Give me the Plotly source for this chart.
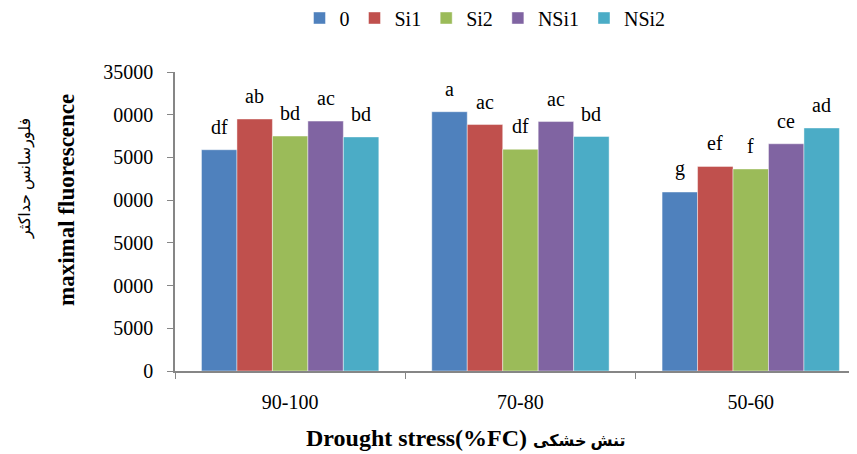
import plotly.graph_objects as go

categories = ["90-100", "70-80", "50-60"]
series_names = ["0", "Si1", "Si2", "NSi1", "NSi2"]
values = {
    "0":    [25900, 30350, 20950],
    "Si1":  [29500, 28850, 23950],
    "Si2":  [27500, 25950, 23650],
    "NSi1": [29250, 29200, 26600],
    "NSi2": [27400, 27450, 28450],
}
letters = {
    "0":    ["df", "a", "g"],
    "Si1":  ["ab", "ac", "ef"],
    "Si2":  ["bd", "df", "f"],
    "NSi1": ["ac", "ac", "ce"],
    "NSi2": ["bd", "bd", "ad"],
}
colors = ["#4F81BD", "#C0504D", "#9BBB59", "#8064A2", "#4BACC6"]
ytick_vals = [0, 5000, 10000, 15000, 20000, 25000, 30000, 35000]
ytick_text = ["0", "5000", "0000", "5000", "0000", "5000", "0000", "35000"]

FONT = "Liberation Serif, Times New Roman, DejaVu Sans, serif"
bargap = 0.23
n = len(series_names)
bw = (1 - bargap) / n

fig = go.Figure()
annotations = []
for i, name in enumerate(series_names):
    fig.add_trace(go.Bar(
        x=categories, y=values[name], name=name,
        marker=dict(color=colors[i], line=dict(color="rgba(255,255,255,0.55)", width=0.8)),
    ))
    for j, v in enumerate(values[name]):
        annotations.append(dict(
            x=j + (i - (n - 1) / 2) * bw, y=v, xref="x", yref="y",
            text=letters[name][j], showarrow=False, yanchor="bottom",
            yshift=10, font=dict(family=FONT, size=20, color="black"),
        ))

OFF = 8  # page body margin
W, H = 857, 454
L, R, T, B = 175 - OFF, 0, 72 - OFF, H - (371 - OFF)
pw, ph = W - L - R, H - T - B

def px_x(px):
    return (px - OFF - L) / pw

def px_y(py):
    return (H - B - (py - OFF)) / ph

annotations += [
    dict(x=px_x(466), y=px_y(438), xref="paper", yref="paper",
         xanchor="center", yanchor="middle",
         text="<b>Drought stress(%FC) <span style='font-size:16px'>تنش خشکی</span></b>",
         showarrow=False,
         font=dict(family=FONT, size=24, color="black")),
    dict(x=px_x(66), y=px_y(200), xref="paper", yref="paper",
         xanchor="center", yanchor="middle",
         text="<b>maximal fluorescence</b>", showarrow=False, textangle=-90,
         font=dict(family=FONT, size=23, color="black")),
    dict(x=px_x(25), y=px_y(179), xref="paper", yref="paper",
         xanchor="center", yanchor="middle",
         text="فلورسانس حداکثر", showarrow=False, textangle=-90,
         font=dict(family=FONT, size=16, color="black")),
]

fig.update_layout(
    width=W, height=H,
    margin=dict(l=L, r=R, t=T, b=B, pad=0, autoexpand=False),
    paper_bgcolor="white", plot_bgcolor="white",
    barmode="group", bargap=bargap, bargroupgap=0,
    font=dict(family=FONT, size=20, color="black"),
    legend=dict(orientation="h", x=px_x(485), xanchor="center",
                y=px_y(18), yanchor="middle", font=dict(family=FONT, size=20),
                itemwidth=30, tracegroupgap=0),
    annotations=annotations,
    showlegend=True,
)
fig.update_xaxes(
    type="category", range=[-0.5, -0.5 + pw / 230.3],
    showline=True, linecolor="#868686", linewidth=1.5,
    ticks="outside", tickson="boundaries", ticklen=6, tickcolor="#868686",
    ticklabelstandoff=12, showgrid=False, zeroline=False,
    tickfont=dict(family=FONT, size=20, color="black"),
)
fig.update_yaxes(
    range=[0, 35000], tickvals=ytick_vals, ticktext=ytick_text,
    showline=True, linecolor="#868686", linewidth=1.5,
    ticks="outside", ticklen=6, tickcolor="#868686",
    showgrid=False, zeroline=False, ticklabelstandoff=10,
    tickfont=dict(family=FONT, size=20, color="black"),
)

fig.write_html("out.html")
